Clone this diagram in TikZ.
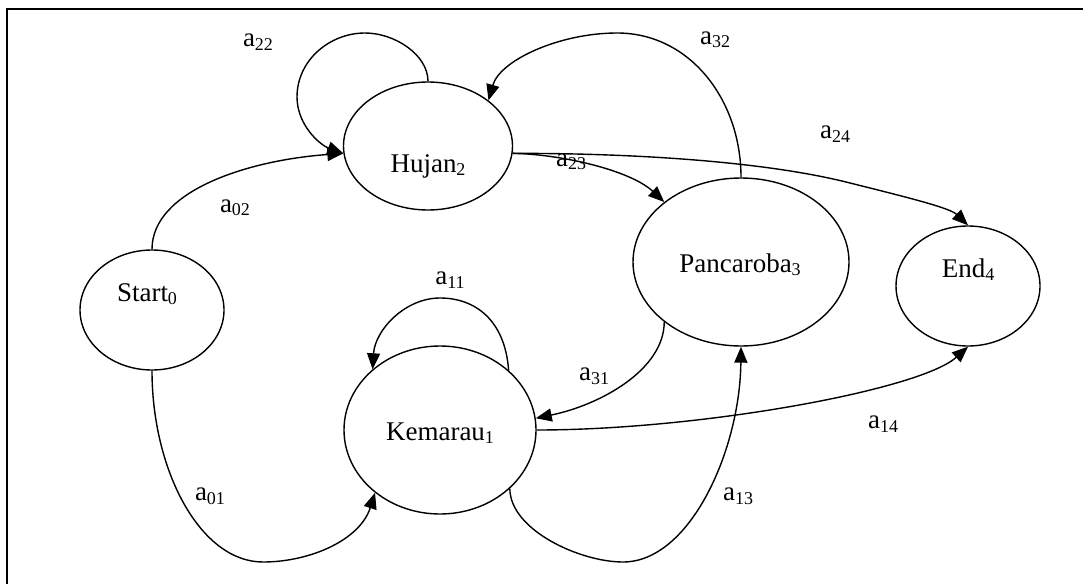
\documentclass[tikz,border=0pt]{standalone}
\usepackage{fontspec}
\setmainfont{Liberation Serif}
\usetikzlibrary{arrows.meta,shapes.geometric}
\newcommand\mysub[1]{\raisebox{-3.5pt}{\fontsize{18}{18}\selectfont #1}}
\begin{document}
\begin{tikzpicture}[x=1pt,y=-1pt,
  state/.style={draw,ellipse,line width=1.4pt,inner sep=0pt},
  txt/.style={font=\fontsize{27}{30}\selectfont,inner sep=0pt,anchor=base},
  lbl/.style={font=\fontsize{27}{30}\selectfont,inner sep=0pt},
  edge/.style={line width=1.4pt,-{Triangle[length=16pt,width=13pt]}}]
\useasboundingbox (0,0) rectangle (1083,583);
\clip (0,0) rectangle (1083,583);
\draw[line width=2.2pt] (1100,9) -- (7,9) -- (7,600);
% states
\node[state,minimum width=144pt,minimum height=120pt] (s0) at (152,310) {};
\node[state,minimum width=192pt,minimum height=168pt] (k1) at (440,430) {};
\node[state,minimum width=169pt,minimum height=128pt] (h2) at (428,146) {};
\node[state,minimum width=216pt,minimum height=168pt] (p3) at (741,262) {};
\node[state,minimum width=144pt,minimum height=120pt] (e4) at (968,286) {};
% state texts
\node[txt] (t0) at (147,301) {Start\mysub{0}};
\node[txt] (t1) at (440,440) {Kemarau\mysub{1}};
\node[txt] (t2) at (428,172) {Hujan\mysub{2}};
\node[txt] (t3) at (740,272) {Pancaroba\mysub{3}};
\node[txt] (t4) at (968,277) {End\mysub{4}};
% edges
\draw[edge] (h2.90) .. controls (428,55) and (395,33) .. (365,33)
  .. controls (330,33) and (297,60) .. (297,97)
  .. controls (297,125) and (320,145) .. (h2.185);
\draw[edge] (p3.90) .. controls (741,100) and (690,33) .. (617,33)
  .. controls (560,33) and (500,60) .. (h2.37);
\draw[edge] (s0.90) .. controls (152,190) and (250,160) .. (h2.185);
\draw[edge] (h2.-5) .. controls (560,154) and (630,170) .. (p3.142);
\draw[edge] (h2.-5) .. controls (620,153) and (760,160) .. (850,183)
  .. controls (910,198) and (950,208) .. (e4.90);
\draw[edge] (k1.41) .. controls (505,320) and (475,298) .. (440,298)
  .. controls (405,298) and (375,330) .. (k1.138);
\draw[edge] (p3.218) .. controls (664,370) and (600,405) .. (k1.7);
\draw[edge] (k1.east) .. controls (700,430) and (920,390) .. (e4.270);
\draw[edge] (k1.-40) .. controls (510,530) and (580,562) .. (623,562)
  .. controls (690,562) and (740,450) .. (p3.270);
\draw[edge] (s0.270) .. controls (152,470) and (200,562) .. (263,562)
  .. controls (310,562) and (360,540) .. (k1.224);
% labels
\node[lbl] (l22) at (258,42) {a\mysub{22}};
\node[lbl] (l02) at (235,208) {a\mysub{02}};
\node[lbl] (l32) at (715,40) {a\mysub{32}};
\node[lbl] (l23) at (571,162) {a\mysub{23}};
\node[lbl] (l24) at (835,134) {a\mysub{24}};
\node[lbl] (l11) at (450,280) {a\mysub{11}};
\node[lbl] (l31) at (594,376) {a\mysub{31}};
\node[lbl] (l14) at (883,424) {a\mysub{14}};
\node[lbl] (l13) at (738,496) {a\mysub{13}};
\node[lbl] (l01) at (210,496) {a\mysub{01}};
\end{tikzpicture}
\end{document}
